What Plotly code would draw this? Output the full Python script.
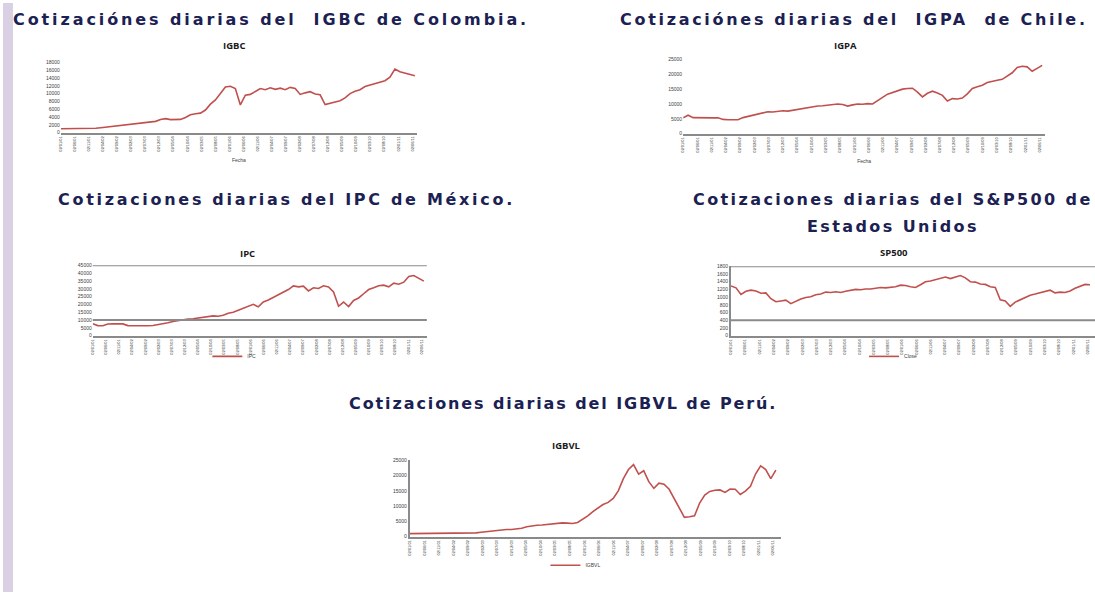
import plotly.graph_objects as go
import pandas as pd

W, H = 1095, 595

FECHA_INICIO = "2001-01-02"
FECHA_FIN = "2011-06-30"

igbc_vals = [1010, 1000, 1020, 1010, 1030, 1050, 1080, 1120, 1250, 1400, 1550, 1700,
             1800, 2000, 2200, 2350, 2500, 2650, 2780, 2900, 3400, 3600, 3350, 3300,
             3400, 3900, 4600, 4850, 5000, 5800, 7300, 8400, 10100, 11700, 11900, 11300,
             7100, 9600, 9800, 10500, 11300, 11000, 11500, 11100, 11400, 11000, 11600, 11300,
             9800, 10200, 10500, 9900, 9700, 7200, 7600, 7800, 8200, 8900, 10000, 10600,
             11000, 11800, 12200, 12400, 12900, 13300, 14200, 16300, 15600, 15200, 14900, 14600]

igpa_vals = [5330, 6200, 5400, 5330, 5330, 5330, 5330, 5330, 4800, 4700, 4650, 4700,
             5400, 5800, 6200, 6600, 7100, 7400, 7300, 7600, 7700, 7600, 7900, 8300,
             8600, 8800, 9000, 9300, 9400, 9600, 9800, 10000, 9800, 9300, 9700, 10000,
             9900, 10100, 10000, 11000, 12200, 13300, 13900, 14600, 15000, 15200, 15300, 14000,
             12400, 13600, 14300, 13700, 12900, 11000, 11800, 11700, 12000, 13400, 15200, 15800,
             16300, 17200, 17700, 18000, 18300, 19300, 20500, 22300, 22700, 22500, 21000, 22000,
             23000]

ipc_vals = [7600, 6400, 6300, 7400, 7600, 7400, 7500, 6400, 6300, 6300, 6300, 6300,
            6500, 7000, 7700, 8200, 9000, 9500, 10300, 10600, 10800, 11200, 11600, 12000,
            12600, 12400, 13000, 14300, 15000, 16200, 17600, 18800, 20000, 18400, 21600, 22800,
            24500, 26000, 28200, 29500, 31800, 31200, 31700, 28600, 30600, 30200, 31900, 31200,
            28000, 18800, 21500, 18600, 22500, 24100, 26800, 29500, 30600, 31900, 32300, 31200,
            33600, 32900, 34200, 37800, 38500, 36800, 34900]

sp500_vals = [1290, 1240, 1070, 1150, 1180, 1160, 1100, 1110, 960, 880, 900, 920,
              830, 900, 950, 990, 1010, 1060, 1080, 1130, 1120, 1140, 1120, 1150,
              1170, 1200, 1190, 1210, 1210, 1230, 1250, 1240, 1250, 1270, 1310, 1300,
              1270, 1250, 1320, 1400, 1420, 1450, 1500, 1520, 1480, 1530, 1560, 1500,
              1400, 1390, 1340, 1330, 1270, 1250, 930, 900, 760, 870, 930, 1010,
              1050, 1080, 1120, 1150, 1180, 1110, 1130, 1120, 1160, 1230, 1290, 1330,
              1320]

igbvl_vals = [970, 970, 970, 980, 990, 990, 1000, 1000, 1000, 1050, 1100, 1100,
              1150, 1200, 1400, 1600, 1800, 2100, 2300, 2300, 2300, 2400, 2700, 3200,
              3500, 3700, 3800, 4000, 4200, 4300, 4500, 4400, 4300, 4600, 5700, 6800,
              8200, 9400, 10500, 11200, 12500, 15000, 19000, 22000, 23600, 20500, 21600, 18000,
              15800, 17500, 17200, 15500, 12500, 9500, 6300, 6500, 6800, 11000, 13600, 14800,
              15200, 15300, 14500, 15600, 15500, 13800, 14900, 16500, 20500, 23200, 22000, 19000,
              21800]

# (text, x px, y px, anchor, letter spacing px)
headers = [
    ("Cotizaciónes diarias del\u00a0 IGBC de Colombia.", 8, 17, "left", 2.9),
    ("Cotizaciónes diarias del\u00a0 IGPA\u00a0 de Chile.", 1090, 17, "right", 2.7),
    ("Cotizaciones diarias del IPC de México.", 284, 199, "center", 2.7),
    ("Cotizaciones diarias del S&P500 de", 892, 199, "center", 2.4),
    ("Estados Unidos", 892, 226, "center", 2.4),
    ("Cotizaciones diarias del IGBVL de Perú.", 562, 405, "center", 1.9),
]

RED = "#c0504d"
GREY = "#8a8a8a"
TICKFONT = dict(family="Liberation Sans", size=5, color="#404040")
XTICKFONT = dict(family="Liberation Sans", size=4, color="#303030")


def px(x):
    return x / W


def py(y):
    return 1 - y / H


charts = [
    dict(n="", name="IGBC", vals=igbc_vals, xd=(58, 415), xend=413, yd=(131, 60), rng=18000, dt=2000,
         tpos=(232, 43), legend=None, grid=[], leftline=False, xtitle="Fecha"),
    dict(n="2", name="IGPA", vals=igpa_vals, xd=(682, 1045), xend=1042, yd=(132, 57), rng=25000, dt=5000,
         tpos=(845, 43), legend=None, grid=[], leftline=False, xtitle="Fecha"),
    dict(n="3", name="IPC", vals=ipc_vals, xd=(90, 425), xend=422, yd=(336, 265), rng=45000, dt=5000,
         tpos=(245, 253), legend=("legend2", 232, 357), grid=[10000, 45000], leftline=False, xtitle=None),
    dict(n="4", name="Close", vals=sp500_vals, xd=(730, 1095), xend=1090, yd=(336, 266), rng=1800, dt=200,
         tpos=(893, 252), legend=("legend3", 893, 357), grid=[400, 1800], leftline=True, xtitle=None,
         title="SP500"),
    dict(n="5", name="IGBVL", vals=igbvl_vals, xd=(408, 780), xend=775, yd=(539, 462), rng=25000, dt=5000,
         tpos=(565, 447), legend=("legend4", 574, 568), grid=[], leftline=True, xtitle=None),
]

fig = go.Figure()
annotations = []
shapes = []

# left lavender strip of the slide
shapes.append(dict(type="rect", xref="paper", yref="paper", x0=0, x1=px(10), y0=0, y1=1,
                   fillcolor="#d9d1e3", line=dict(width=0), layer="below"))

for c in charts:
    n = c["n"]
    dates = pd.date_range(FECHA_INICIO, FECHA_FIN, periods=len(c["vals"]))
    span = dates[-1] - dates[0]
    x0p, x1p = c["xd"]
    frac = (x1p - x0p) / (c["xend"] - x0p)
    x_end = dates[0] + span * frac
    tr = go.Scatter(x=dates, y=c["vals"], mode="lines", name=c["name"],
                    line=dict(color=RED, width=1.6),
                    xaxis="x" + n, yaxis="y" + n,
                    showlegend=c["legend"] is not None)
    if c["legend"] is not None:
        tr.legend = c["legend"][0]
    fig.add_trace(tr)

    xa = dict(domain=[px(x0p), px(x1p)], range=[dates[0], x_end], anchor="y" + n,
              type="date", tickformat="%d/%m/%y", dtick="M5", tick0=FECHA_INICIO,
              tickangle=-90, tickfont=XTICKFONT, showgrid=False, zeroline=False,
              showline=True, linecolor=GREY, linewidth=2, ticks="")
    if c["xtitle"]:
        xa["title"] = dict(text=c["xtitle"], font=dict(family="Liberation Sans", size=5, color="#404040"),
                           standoff=8)
    ya = dict(domain=[py(c["yd"][0]), py(c["yd"][1])], range=[0, c["rng"]], dtick=c["dt"],
              tickformat="d", anchor="x" + n, tickfont=TICKFONT, showgrid=False, zeroline=False,
              showline=c["leftline"], linecolor=GREY, linewidth=2, ticks="")
    fig.update_layout(**{"xaxis" + n: xa, "yaxis" + n: ya})

    for g in c["grid"]:
        shapes.append(dict(type="line", xref="x" + n + " domain", yref="y" + n,
                           x0=0, x1=1, y0=g, y1=g, line=dict(color=GREY, width=2)))

    annotations.append(dict(text="<b>" + c.get("title", c["name"]) + "</b>", x=px(c["tpos"][0]),
                            y=py(c["tpos"][1]), xref="paper", yref="paper", showarrow=False,
                            xanchor="center", yanchor="middle",
                            font=dict(family="Open Sans", size=9.5, color="#1a1a1a")))
    if c["legend"] is not None:
        lname, lx, ly = c["legend"]
        fig.update_layout(**{lname: dict(x=px(lx), y=py(ly), xanchor="center", yanchor="middle",
                                         orientation="h", bgcolor="rgba(0,0,0,0)", itemwidth=30,
                                         font=dict(family="Liberation Sans", size=5, color="#404040"))})

for text, x, y, anchor, sp in headers:
    annotations.append(dict(text='<span style="letter-spacing:%.1fpx"><b>%s</b></span>' % (sp, text),
                            x=px(x), y=py(y), xref="paper", yref="paper",
                            showarrow=False, xanchor=anchor, yanchor="middle",
                            font=dict(family="DejaVu Sans", size=16, color="#1b2152")))

fig.update_layout(width=W, height=H, margin=dict(l=0, r=0, t=0, b=0),
                  paper_bgcolor="white", plot_bgcolor="rgba(0,0,0,0)",
                  annotations=annotations, shapes=shapes, showlegend=True)

fig.write_html("out.html", config={"displayModeBar": False})

# remove the browser's default page margin so the 1095x595 figure fills the window
with open("out.html", encoding="utf-8") as f:
    page = f.read()
page = page.replace("<head>", "<head><style>html,body{margin:0;padding:0;overflow:hidden}</style>", 1)
with open("out.html", "w", encoding="utf-8") as f:
    f.write(page)
